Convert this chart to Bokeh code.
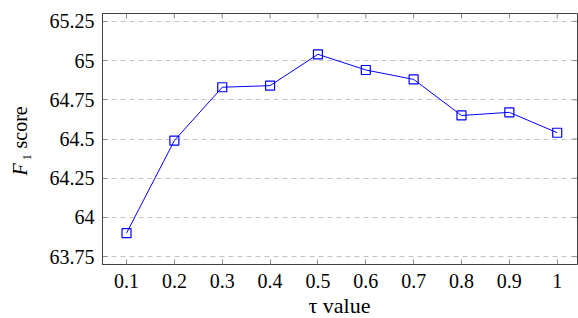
from math import pi
from bokeh.plotting import figure
from bokeh.models import Range1d, FixedTicker, Label
from bokeh.embed import file_html
from bokeh.resources import INLINE

tau = [0.1, 0.2, 0.3, 0.4, 0.5, 0.6, 0.7, 0.8, 0.9, 1.0]
f1 = [63.90, 64.49, 64.83, 64.84, 65.04, 64.94, 64.88, 64.65, 64.67, 64.54]
x_ticks = [0.1, 0.2, 0.3, 0.4, 0.5, 0.6, 0.7, 0.8, 0.9, 1.0]
x_tick_labels = ["0.1", "0.2", "0.3", "0.4", "0.5", "0.6", "0.7", "0.8", "0.9", "1"]
y_ticks = [63.75, 64.0, 64.25, 64.5, 64.75, 65.0, 65.25]
y_tick_labels = ["63.75", "64", "64.25", "64.5", "64.75", "65", "65.25"]

FONT = "Liberation Serif"
X0, X1 = 0.0498, 1.0424
Y0, Y1 = 63.7, 65.3
FRAME_W, FRAME_H = 475, 251
TICK_PX = 5

p = figure(width=578, height=318, output_backend="svg", toolbar_location=None,
           x_range=Range1d(X0, X1), y_range=Range1d(Y0, Y1),
           min_border_left=102, min_border_right=1, min_border_top=13, min_border_bottom=54)

p.outline_line_color = "#404040"
p.outline_line_width = 1
p.background_fill_color = "white"
p.border_fill_color = "white"

p.xgrid.visible = False
p.ygrid.ticker = FixedTicker(ticks=y_ticks)
p.ygrid.grid_line_color = "#c4c4c4"
p.ygrid.grid_line_dash = "5 4"
p.ygrid.grid_line_width = 1

TICK_COLOR = "#8a8a8a"

def style(ax):
    ax.axis_line_color = "#404040"
    ax.major_tick_in = TICK_PX
    ax.major_tick_out = 0
    ax.minor_tick_line_color = None
    ax.major_tick_line_color = TICK_COLOR
    ax.major_tick_line_width = 1
    ax.major_label_text_font = FONT
    ax.major_label_text_font_size = "20px"
    ax.major_label_text_color = "black"

xa = p.xaxis[0]
xa.ticker = FixedTicker(ticks=x_ticks)
xa.major_label_overrides = {t: l for t, l in zip(x_ticks, x_tick_labels)}
style(xa)
xa.major_label_standoff = 9

ya = p.yaxis[0]
ya.ticker = FixedTicker(ticks=y_ticks)
ya.major_label_overrides = {t: l for t, l in zip(y_ticks, y_tick_labels)}
style(ya)
ya.major_label_standoff = 8

# inward tick marks on top and right frame edges
dy = TICK_PX * (Y1 - Y0) / FRAME_H
dx = TICK_PX * (X1 - X0) / FRAME_W
p.segment(x0=x_ticks, y0=[Y1] * len(x_ticks), x1=x_ticks, y1=[Y1 - dy] * len(x_ticks),
          line_color=TICK_COLOR, line_width=1)
p.segment(x0=[X1] * len(y_ticks), y0=y_ticks, x1=[X1 - dx] * len(y_ticks), y1=y_ticks,
          line_color=TICK_COLOR, line_width=1)

p.line(tau, f1, line_color="blue", line_width=1)
p.scatter(tau, f1, marker="square", size=9, line_color="blue", fill_color=None, line_width=1.2)

# axis titles placed in side panels (so they are not clipped), canvas units (origin top-left)
p.add_layout(Label(x=30, y=175, x_units="canvas", y_units="canvas", text="F", angle=pi / 2,
                   text_font=FONT, text_font_size="20px", text_font_style="italic",
                   text_color="black"), "left")
p.add_layout(Label(x=30, y=160, x_units="canvas", y_units="canvas", text="₁ score", angle=pi / 2,
                   text_font=FONT, text_font_size="20px", text_color="black"), "left")
p.add_layout(Label(x=308, y=317, x_units="canvas", y_units="canvas", text="τ value",
                   text_font=FONT, text_font_size="22px", text_color="black"), "below")

open("out.html", "w").write(file_html(p, INLINE))
